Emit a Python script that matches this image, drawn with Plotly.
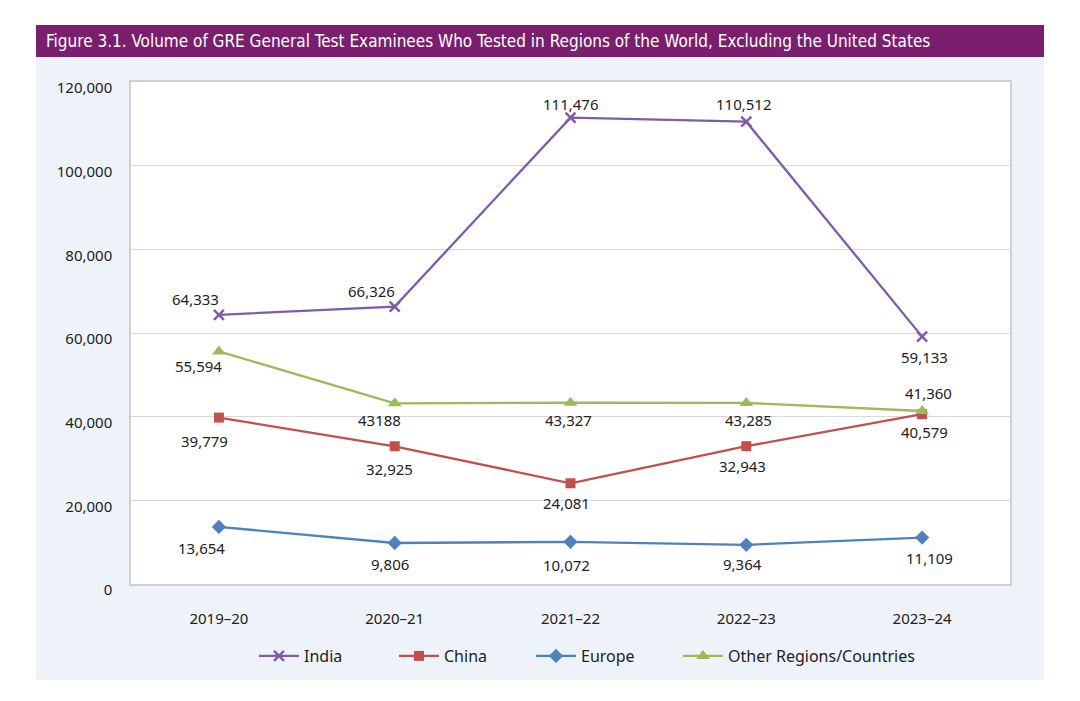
import plotly.graph_objects as go

years = ["2019–20", "2020–21", "2021–22", "2022–23", "2023–24"]
india = [64333, 66326, 111476, 110512, 59133]
china = [39779, 32925, 24081, 32943, 40579]
europe = [13654, 9806, 10072, 9364, 11109]
other = [55594, 43188, 43327, 43285, 41360]
other_text = ["55,594", "43188", "43,327", "43,285", "41,360"]

series = [
    ("India", india, [f"{v:,}" for v in india], "#7f5ca8", "x-thin", 10),
    ("China", china, [f"{v:,}" for v in china], "#c0504d", "square", 10),
    ("Europe", europe, [f"{v:,}" for v in europe], "#4f81bd", "diamond", 11),
    ("Other Regions/Countries", other, other_text, "#9bbb59", "triangle-up", 12),
]

# label offsets in pixels (dx, dy down positive)
offsets = {
    "India": [(-23, -16), (-23, -16), (0, -14), (-2, -18), (2, 20)],
    "China": [(-14, 23), (-5, 23), (-4, 20), (-4, 20), (2, 18)],
    "Europe": [(-17, 21), (-5, 21), (-4, 23), (-4, 19), (7, 20)],
    "Other Regions/Countries": [(-20, 15), (-15, 17), (-2, 17), (2, 17), (6, -18)],
}
# legend entry left positions (pixels)
legend_x = [254, 394, 531, 678]

FONT = "Noto Sans"
TXT = "#222222"

L, R, T, B = 131, 1010, 82, 584
W, H = 1080, 701
pw, ph = R - L, B - T

def px(x):
    return (x - L) / pw

def py(y):
    return (B - y) / ph

fig = go.Figure()
annotations = []
legends = {}
for k, (name, vals, texts, color, sym, size) in enumerate(series):
    marker = dict(symbol=sym, size=size, color=color)
    if sym == "x-thin":
        marker["line"] = dict(color=color, width=2.5)
    lg = "legend" if k == 0 else f"legend{k + 1}"
    legends[lg] = dict(orientation="h", x=px(legend_x[k]), y=py(656), xanchor="left", yanchor="middle",
                       font=dict(family=FONT, size=16, color=TXT), bgcolor="rgba(0,0,0,0)",
                       itemwidth=40)
    fig.add_trace(go.Scatter(
        x=years, y=vals, name=name, mode="lines+markers", legend=lg,
        line=dict(color=color, width=2.3), marker=marker,
    ))
    for i, (v, t) in enumerate(zip(vals, texts)):
        dx, dy = offsets[name][i]
        annotations.append(dict(
            x=years[i], y=v, xref="x", yref="y", text=t, showarrow=False,
            xshift=dx, yshift=-dy, font=dict(family=FONT, size=15, color=TXT),
        ))

shapes = [
    dict(type="rect", xref="paper", yref="paper", x0=px(36), x1=px(1044), y0=py(680), y1=py(57),
         fillcolor="#eef2f9", line=dict(width=0), layer="below"),
    dict(type="rect", xref="paper", yref="paper", x0=px(36), x1=px(1044), y0=py(57), y1=py(25),
         fillcolor="#7a1f6e", line=dict(width=0), layer="below"),
    dict(type="rect", xref="paper", yref="paper", x0=0, x1=1, y0=0, y1=1,
         fillcolor="white", line=dict(width=0), layer="below"),
]

annotations.append(dict(
    x=px(44), y=py(41), xref="paper", yref="paper", xanchor="left", yanchor="middle",
    text="Figure 3.1. Volume of GRE General Test Examinees Who Tested in Regions of the World, Excluding the United States",
    showarrow=False, font=dict(family="DejaVu Sans Condensed, Liberation Sans Narrow, Roboto", size=17, color="white"),
))

fig.update_layout(
    width=W, height=H,
    margin=dict(l=L, r=W - R, t=T, b=H - B, pad=0),
    paper_bgcolor="white", plot_bgcolor="rgba(0,0,0,0)",
    shapes=shapes, annotations=annotations,
    showlegend=True,
    font=dict(family=FONT, color=TXT),
    **legends,
)
fig.update_xaxes(
    type="category", range=[-0.5, 4.5], showgrid=False,
    showline=True, mirror=True, linecolor="#d0d0d0", linewidth=1.5,
    tickfont=dict(family=FONT, size=15, color=TXT), ticks="", ticklabelstandoff=20,
    fixedrange=True,
)
fig.update_yaxes(
    range=[0, 120000], dtick=20000, tickformat=",", showgrid=True, gridcolor="#d9d9d9", gridwidth=1,
    showline=True, mirror=True, linecolor="#d0d0d0", linewidth=1.5, zeroline=False,
    tickfont=dict(family=FONT, size=15, color=TXT), ticks="", ticklabelstandoff=14,
    ticklabelshift=6, fixedrange=True,
)

fig.write_html("out.html", post_script="document.body.style.margin='0px';",
               config={"displayModeBar": False})
